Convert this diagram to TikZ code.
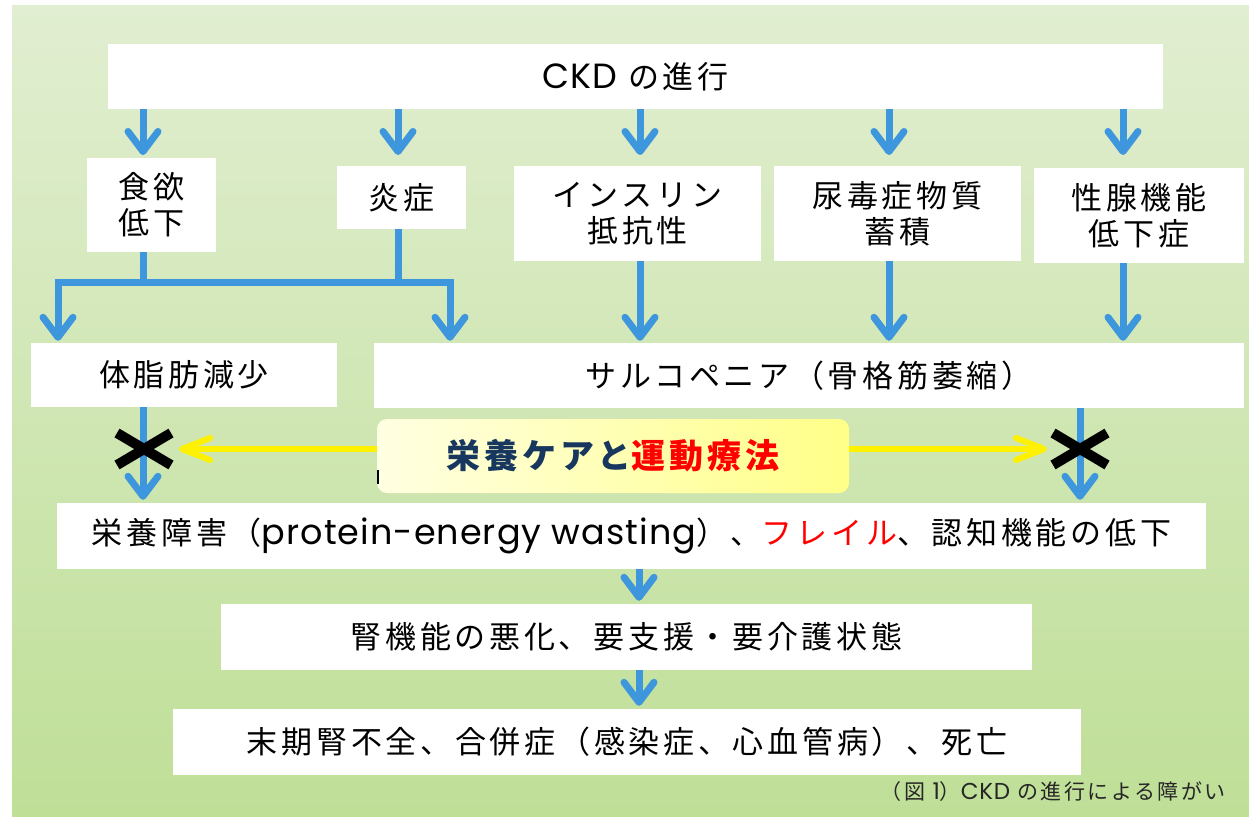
\documentclass[tikz,border=0pt]{standalone}
\usepackage{fontspec}
\setmainfont{Noto Sans CJK JP}[LetterSpace=12]
\newfontfamily\latf{Poppins}[LetterSpace=3]
\newcommand{\lat}[1]{{\latf\fontsize{35}{36}\selectfont #1}}
\newcommand{\latsm}[1]{{\latf\fontsize{23}{24}\selectfont #1}}
\usetikzlibrary{arrows.meta,shapes.misc,calc}
\definecolor{bgtop}{RGB}{225,238,209}
\definecolor{bgbot}{RGB}{191,223,151}
\definecolor{ablue}{RGB}{62,150,221}
\definecolor{navy}{RGB}{23,55,94}
\definecolor{ylight}{RGB}{255,255,226}
\definecolor{ydark}{RGB}{255,255,136}
\begin{document}
\begin{tikzpicture}[x=1pt,y=-1pt,
  box/.style={fill=white, inner sep=0pt, align=center, font=\fontsize{31}{36}\selectfont},
  barrow/.style={draw=ablue, line width=7pt, -{Straight Barb[length=20pt,width=30pt,round]}},
  bline/.style={draw=ablue, line width=7pt},
  yarrow/.style={draw=yellow, line width=6pt, -{Straight Barb[length=28pt,width=22pt,round]}},
  xmark/.style={cross out, draw=black, line width=10pt, minimum width=44pt, minimum height=22pt, inner sep=0pt}]
\useasboundingbox (0,0) rectangle (1249,816);
\shade[top color=bgtop,bottom color=bgbot] (12,6) rectangle (1249,816);
% boxes
\node[box, minimum width=1055pt, minimum height=65pt] (ckd) at (635.5,76.5) {\lat{CKD} の進行};
\node[box, minimum width=129pt, minimum height=94pt] (shoku) at (151.5,205) {食欲\\低下};
\node[box, minimum width=129pt, minimum height=63pt] (en) at (401.5,197.5) {炎症};
\node[box, minimum width=247pt, minimum height=95pt] (ins) at (637.5,213.5) {インスリン\\抵抗性};
\node[box, minimum width=247pt, minimum height=95pt] (nyo) at (897.5,213.5) {尿毒症物質\\蓄積};
\node[box, minimum width=210pt, minimum height=95pt] (sei) at (1139,215.5) {性腺機能\\低下症};
\node[box, minimum width=306pt, minimum height=64pt] (tai) at (184,375) {体脂肪減少};
\node[box, minimum width=870pt, minimum height=65pt] (sar) at (809,375.5) {サルコペニア（骨格筋萎縮）};
\node[box, minimum width=1149pt, minimum height=66pt] (eiyo) at (631.5,536) {栄養障害（\lat{protein-energy wasting}）、\textcolor{red}{フレイル}、認知機能の低下};
\node[box, minimum width=811pt, minimum height=66pt] (jin) at (626.5,637) {腎機能の悪化、要支援・要介護状態};
\node[box, minimum width=908pt, minimum height=66pt] (mak) at (627,742) {末期腎不全、合併症（感染症、心血管病）、死亡};
\node[anchor=east, inner sep=0pt, font=\fontsize{21}{24}\selectfont, text=black!85] (cap) at (1226,792) {（図 \latsm{1}）\latsm{CKD} の進行による障がい};
% coordinates
\coordinate (t1) at (143,155);
\coordinate (t2) at (398,155);
\coordinate (t3) at (640,155);
\coordinate (t4) at (889,155);
\coordinate (t5) at (1123,155);
\coordinate (jl) at (58,282);
\coordinate (jr) at (450,282);
\coordinate (vr) at (1080,0);
\coordinate (m) at (639,0);
% top arrows
\foreach \t in {t1,t2,t3,t4,t5} \draw[barrow] (ckd.south -| \t) -- (\t);
% branch
\draw[bline] (shoku.south -| t1) -- (t1 |- jl);
\draw[bline] (en.south -| t2) -- (t2 |- jl);
\draw[barrow, shorten >=2pt] (jr) -- (jl) -- (tai.north -| jl);
\draw[barrow, shorten >=2pt] (jl) -- (jr) -- (sar.north -| jr);
% middle arrows
\draw[barrow, shorten >=2pt] (ins.south -| t3) -- (sar.north -| t3);
\draw[barrow, shorten >=2pt] (nyo.south -| t4) -- (sar.north -| t4);
\draw[barrow, shorten >=2pt] (sei.south -| t5) -- (sar.north -| t5);
% lower arrows
\draw[barrow, shorten >=3pt] (tai.south -| t1) -- (eiyo.north -| t1);
\draw[barrow, shorten >=3pt] (sar.south -| vr) -- (eiyo.north -| vr);
\draw[barrow, shorten >=3pt] (eiyo.south -| m) -- (jin.north -| m);
\draw[barrow, shorten >=3pt] (jin.south -| m) -- (mak.north -| m);
% care box and crosses
\node[rounded corners=10pt, left color=ylight, right color=ydark, minimum width=472pt, minimum height=74pt, inner sep=0pt, font=\fontsize{34}{36}\selectfont\bfseries, text=navy] (care) at (613,456) {栄養ケアと\textcolor{red}{運動療法}};
\node[xmark] (xl) at (144,449) {};
\node[xmark] (xr) at (1080,449) {};
\draw[yarrow, shorten >=8pt] (care.west |- xl) -- (xl.east);
\draw[yarrow, shorten >=6pt] (care.east |- xr) -- (xr.west);
\draw[line width=1.2pt] (378,470) -- (378,484);
\end{tikzpicture}
\end{document}
